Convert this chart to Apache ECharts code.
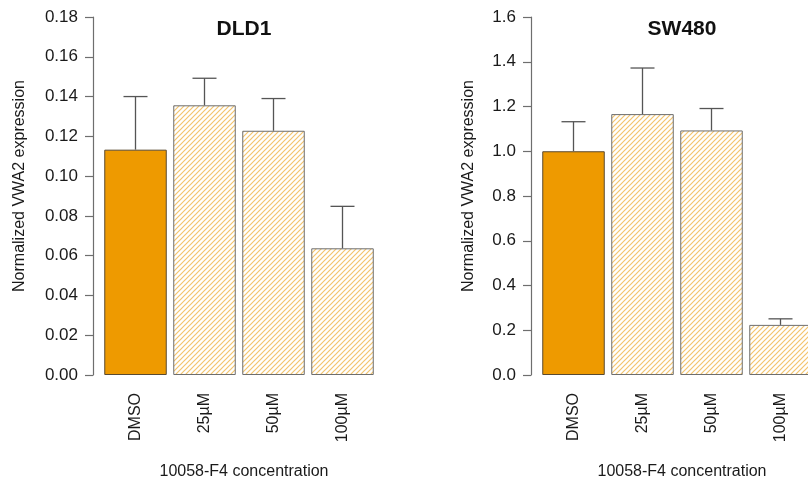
<!DOCTYPE html>
<html>
<head>
<meta charset="utf-8">
<script src="https://cdn.jsdelivr.net/npm/echarts@6/dist/echarts.min.js"></script>
<style>html,body{margin:0;padding:0;background:#fff;}#c{width:808px;height:479px;}</style>
</head>
<body>
<div id="c"></div>
<script>
const categories = ['DMSO', '25\u00b5M', '50\u00b5M', '100\u00b5M'];
const dld1Means = [0.1133, 0.1356, 0.1228, 0.0637];
const dld1Upper = [0.1400, 0.1492, 0.1390, 0.0848];
const sw480Means = [1.000, 1.166, 1.093, 0.224];
const sw480Upper = [1.132, 1.372, 1.191, 0.251];
const dld1Ticks = {min: 0, max: 0.18, interval: 0.02};
const sw480Ticks = {min: 0, max: 1.6, interval: 0.2};
const panelTitles = ['DLD1', 'SW480'];
const yTitle = 'Normalized VWA2 expression';
const xTitle = '10058-F4 concentration';

const FONT = 'Liberation Sans, Arial, Helvetica, sans-serif';

function hatch() {
  const s = 5;
  const c = document.createElement('canvas');
  c.width = s; c.height = s;
  const g = c.getContext('2d');
  g.fillStyle = '#ffffff';
  g.fillRect(0, 0, s, s);
  g.strokeStyle = '#f3c46e';
  g.lineWidth = 1.2;
  g.beginPath();
  g.moveTo(-1, s + 1); g.lineTo(s + 1, -1);
  g.moveTo(-1, 1); g.lineTo(1, -1);
  g.moveTo(s - 1, s + 1); g.lineTo(s + 1, s - 1);
  g.stroke();
  return c;
}
const hatchImg = hatch();

const grids = [
  {left: 101, top: 17, width: 276, height: 358, outerBoundsMode: 'none', containLabel: false},
  {left: 539, top: 17, width: 276, height: 358, outerBoundsMode: 'none', containLabel: false}
];

function barData(vals) {
  return vals.map((v, i) => ({
    value: v,
    itemStyle: i === 0
      ? {color: '#ee9a00', borderColor: '#5a4a30', borderWidth: 1}
      : {color: {image: hatchImg, repeat: 'repeat'}, borderColor: '#6e6e6e', borderWidth: 1}
  }));
}

function errRender(params, api) {
  const base = api.coord([api.value(0), api.value(1)]);
  const top = api.coord([api.value(0), api.value(2)]);
  const half = 12;
  const st = {stroke: '#555555', lineWidth: 1.3};
  return {
    type: 'group',
    children: [
      {type: 'line', shape: {x1: base[0], y1: base[1], x2: top[0], y2: top[1]}, style: st},
      {type: 'line', shape: {x1: top[0] - half, y1: top[1], x2: top[0] + half, y2: top[1]}, style: st}
    ]
  };
}

function yAxis(gi, t, dec) {
  return {
    type: 'value', gridIndex: gi, min: t.min, max: t.max, interval: t.interval,
    offset: 8,
    axisLine: {show: true, lineStyle: {color: '#6e6e6e', width: 1.2}},
    axisTick: {show: true, length: 8, lineStyle: {color: '#6e6e6e', width: 1.2}},
    axisLabel: {formatter: v => v.toFixed(dec), fontSize: 17, color: '#1a1a1a', fontFamily: FONT, margin: 15},
    splitLine: {show: false}
  };
}

function xAxis(gi) {
  return {
    type: 'category', gridIndex: gi, data: categories,
    axisLine: {show: false}, axisTick: {show: false},
    axisLabel: {rotate: 90, fontSize: 16, color: '#1a1a1a', fontFamily: FONT, margin: 18}
  };
}

const chart = echarts.init(document.getElementById('c'), null, {renderer: 'canvas'});
chart.setOption({
  animation: false,
  backgroundColor: '#ffffff',
  grid: grids,
  xAxis: [xAxis(0), xAxis(1)],
  yAxis: [yAxis(0, dld1Ticks, 2), yAxis(1, sw480Ticks, 1)],
  title: [
    {text: panelTitles[0], left: 239, top: 14, textAlign: 'center', textStyle: {fontSize: 21, fontWeight: 'bold', color: '#111', fontFamily: FONT}},
    {text: panelTitles[1], left: 677, top: 14, textAlign: 'center', textStyle: {fontSize: 21, fontWeight: 'bold', color: '#111', fontFamily: FONT}},
    {text: xTitle, left: 239, top: 459, textAlign: 'center', textStyle: {fontSize: 16, fontWeight: 'normal', color: '#1a1a1a', fontFamily: FONT}},
    {text: xTitle, left: 677, top: 459, textAlign: 'center', textStyle: {fontSize: 16, fontWeight: 'normal', color: '#1a1a1a', fontFamily: FONT}}
  ],
  graphic: [
    {type: 'text', x: 20, y: 186, rotation: Math.PI / 2, style: {text: yTitle, fontSize: 16, fontFamily: FONT, fill: '#1a1a1a', textAlign: 'center', textVerticalAlign: 'middle'}},
    {type: 'text', x: 469, y: 186, rotation: Math.PI / 2, style: {text: yTitle, fontSize: 16, fontFamily: FONT, fill: '#1a1a1a', textAlign: 'center', textVerticalAlign: 'middle'}}
  ],
  series: [
    {type: 'bar', xAxisIndex: 0, yAxisIndex: 0, barWidth: 62.5, data: barData(dld1Means)},
    {type: 'custom', xAxisIndex: 0, yAxisIndex: 0, renderItem: errRender, data: dld1Means.map((m, i) => [i, m, dld1Upper[i]]), z: 3},
    {type: 'bar', xAxisIndex: 1, yAxisIndex: 1, barWidth: 62.5, data: barData(sw480Means)},
    {type: 'custom', xAxisIndex: 1, yAxisIndex: 1, renderItem: errRender, data: sw480Means.map((m, i) => [i, m, sw480Upper[i]]), z: 3}
  ]
});
</script>
</body>
</html>
